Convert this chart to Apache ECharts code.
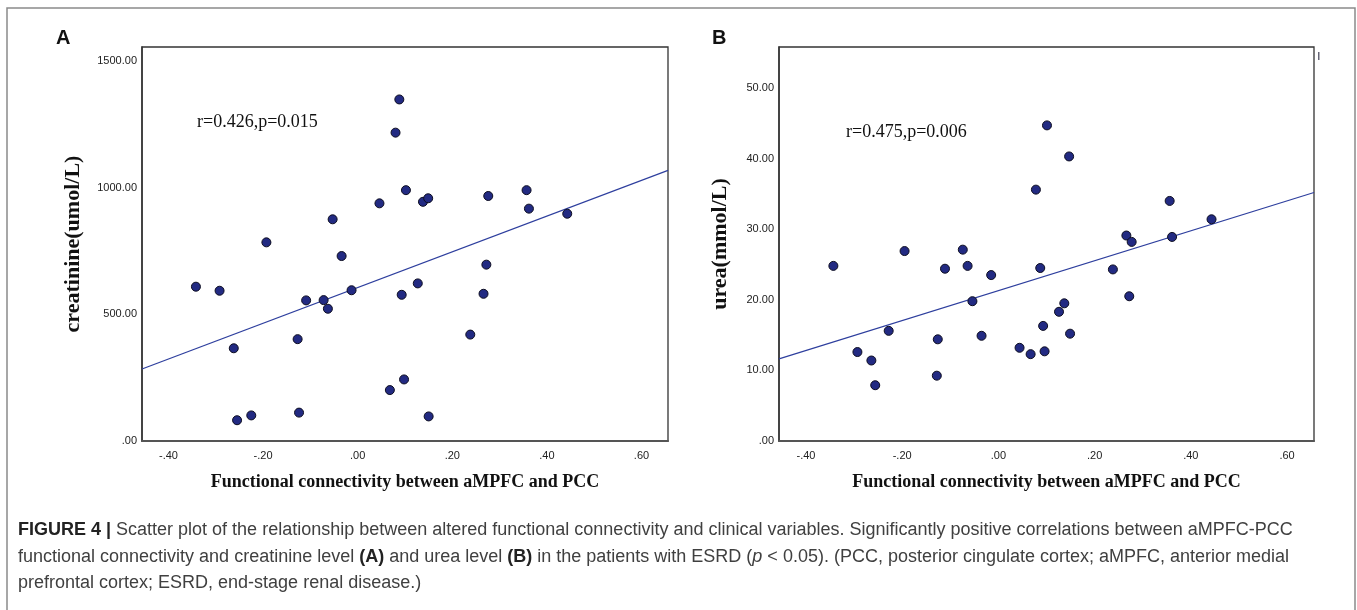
<!DOCTYPE html>
<html>
<head>
<meta charset="utf-8">
<script src="https://cdn.jsdelivr.net/npm/echarts@6/dist/echarts.min.js"></script>
<style>
html,body{margin:0;padding:0;background:#fff;}
#chart{width:1357px;height:610px;}
</style>
</head>
<body>
<div id="chart"></div>
<script>
// ---- data ----
const xTicks = [-0.4, -0.2, 0, 0.2, 0.4, 0.6];
const yTicksA = [0, 500, 1000, 1500];
const yTicksB = [0, 10, 20, 30, 40, 50];

const fcA = [0.088, 0.080, 0.102, 0.046, 0.138, 0.149, 0.276, 0.357, 0.362, 0.443, -0.053, -0.193, -0.034, 0.272, -0.342, -0.292, -0.109, -0.072, -0.063, -0.013, 0.127, 0.093, 0.266, 0.238, -0.127, -0.262, 0.098, 0.068, -0.225, -0.255, -0.124, 0.150];
const creatinine = [1348, 1217, 990, 938, 944, 958, 967, 990, 917, 897, 875, 784, 730, 696, 609, 593, 555, 556, 522, 595, 622, 577, 581, 420, 402, 366, 243, 201, 101, 82, 112, 97];

const fcB = [0.101, 0.147, 0.078, 0.356, 0.443, 0.266, 0.277, 0.361, -0.195, -0.074, -0.343, -0.111, -0.064, 0.087, 0.238, -0.015, 0.272, -0.054, 0.137, 0.126, 0.093, 0.149, -0.228, -0.035, -0.126, 0.044, 0.067, 0.096, -0.293, -0.264, -0.128, -0.256];
const urea = [44.7, 40.3, 35.6, 34.0, 31.4, 29.1, 28.2, 28.9, 26.9, 27.1, 24.8, 24.4, 24.8, 24.5, 24.3, 23.5, 20.5, 19.8, 19.5, 18.3, 16.3, 15.2, 15.6, 14.9, 14.4, 13.2, 12.3, 12.7, 12.6, 11.4, 9.25, 7.9];

const fitX = [-0.456, 0.656];
const fitA = [284, 1068];
const fitB = [11.63, 35.2];

const statA = 'r=0.426,p=0.015';
const statB = 'r=0.475,p=0.006';
const xTitle = 'Functional connectivity between aMPFC and PCC';
const yTitleA = 'creatinine(umol/L)';
const yTitleB = 'urea(mmol/L)';

// ---- helpers ----
function fmt(v) {
  let s = Math.abs(v).toFixed(2);
  if (s.startsWith('0.')) s = s.slice(1);
  return (v < 0 ? '-' : '') + s;
}
const zip = (a, b) => a.map((v, i) => [v, b[i]]);

const serif = '"Liberation Serif", "Times New Roman", serif';
const sans = '"Liberation Sans", Arial, sans-serif';

function xAxisCfg(idx) {
  return {
    gridIndex: idx, type: 'value', min: -0.456, max: 0.656,
    splitLine: {show: false},
    axisLine: {show: true, onZero: false, lineStyle: {color: '#555', width: 2}},
    axisTick: {show: false},
    axisLabel: {customValues: xTicks, formatter: fmt, color: '#222', fontSize: 11, fontFamily: sans, margin: 9},
    name: xTitle, nameLocation: 'middle', nameGap: 32,
    nameTextStyle: {fontFamily: serif, fontWeight: 'bold', fontSize: 18, color: '#111'}
  };
}
function yAxisCfg(idx, max, ticks, title, gap) {
  return {
    gridIndex: idx, type: 'value', min: 0, max: max,
    splitLine: {show: false},
    axisLine: {show: true, onZero: false, lineStyle: {color: '#333', width: 1.5}},
    axisTick: {show: false},
    axisLabel: {customValues: ticks, formatter: fmt, color: '#222', fontSize: 11, fontFamily: sans, margin: 5},
    name: title, nameLocation: 'middle', nameGap: gap, nameRotate: 90,
    nameTextStyle: {fontFamily: serif, fontWeight: 'bold', fontSize: 22, color: '#111'}
  };
}
const dot = {color: '#222a82', borderColor: '#0d0d20', borderWidth: 1, opacity: 1};
const fitStyle = {color: '#2e3f9e', width: 1.2};

const chart = echarts.init(document.getElementById('chart'), null, {renderer: 'canvas'});
chart.setOption({
  backgroundColor: '#fff',
  animation: false,
  grid: [
    {left: 142, top: 47, width: 526, height: 394, show: true, borderColor: '#333', borderWidth: 1.3, backgroundColor: 'transparent'},
    {left: 779, top: 47, width: 535, height: 394, show: true, borderColor: '#333', borderWidth: 1.3, backgroundColor: 'transparent'}
  ],
  xAxis: [xAxisCfg(0), xAxisCfg(1)],
  yAxis: [yAxisCfg(0, 1555, yTicksA, yTitleA, 58), yAxisCfg(1, 55.8, yTicksB, yTitleB, 48)],
  series: [
    {type: 'line', xAxisIndex: 0, yAxisIndex: 0, data: zip(fitX, fitA), symbol: 'none', lineStyle: fitStyle, z: 2},
    {type: 'scatter', xAxisIndex: 0, yAxisIndex: 0, data: zip(fcA, creatinine), symbolSize: 9, itemStyle: dot, z: 3},
    {type: 'line', xAxisIndex: 1, yAxisIndex: 1, data: zip(fitX, fitB), symbol: 'none', lineStyle: fitStyle, z: 2},
    {type: 'scatter', xAxisIndex: 1, yAxisIndex: 1, data: zip(fcB, urea), symbolSize: 9, itemStyle: dot, z: 3}
  ],
  graphic: [
    {type: 'rect', shape: {x: 7, y: 8, width: 1348, height: 620}, style: {fill: 'none', stroke: '#8a8a8a', lineWidth: 1.5}, silent: true},
    {type: 'text', left: 56, top: 28, style: {text: 'A', font: 'bold 20px ' + sans, fill: '#111'}},
    {type: 'text', left: 712, top: 28, style: {text: 'B', font: 'bold 20px ' + sans, fill: '#111'}},
    {type: 'rect', shape: {x: 1318, y: 52, width: 1.5, height: 8}, style: {fill: '#667'}, silent: true},
    {type: 'text', left: 197, top: 113, style: {text: statA, font: '18px ' + serif, fill: '#111'}},
    {type: 'text', left: 846, top: 123, style: {text: statB, font: '18px ' + serif, fill: '#111'}},
    {type: 'text', left: 18, top: 521, style: {
      text: '{b|FIGURE 4 |} Scatter plot of the relationship between altered functional connectivity and clinical variables. Significantly positive correlations between aMPFC-PCC',
      font: '18px ' + sans, fill: '#404040',
      rich: {b: {font: 'bold 18px ' + sans, fill: '#222'}}
    }},
    {type: 'text', left: 18, top: 548, style: {
      text: 'functional connectivity and creatinine level {b|(A)} and urea level {b|(B)} in the patients with ESRD ({i|p} < 0.05). (PCC, posterior cingulate cortex; aMPFC, anterior medial',
      font: '18px ' + sans, fill: '#404040',
      rich: {b: {font: 'bold 18px ' + sans, fill: '#222'}, i: {font: 'italic 18px ' + sans, fill: '#404040'}}
    }},
    {type: 'text', left: 18, top: 574, style: {
      text: 'prefrontal cortex; ESRD, end-stage renal disease.)',
      font: '18px ' + sans, fill: '#404040'
    }}
  ]
});
</script>
</body>
</html>
